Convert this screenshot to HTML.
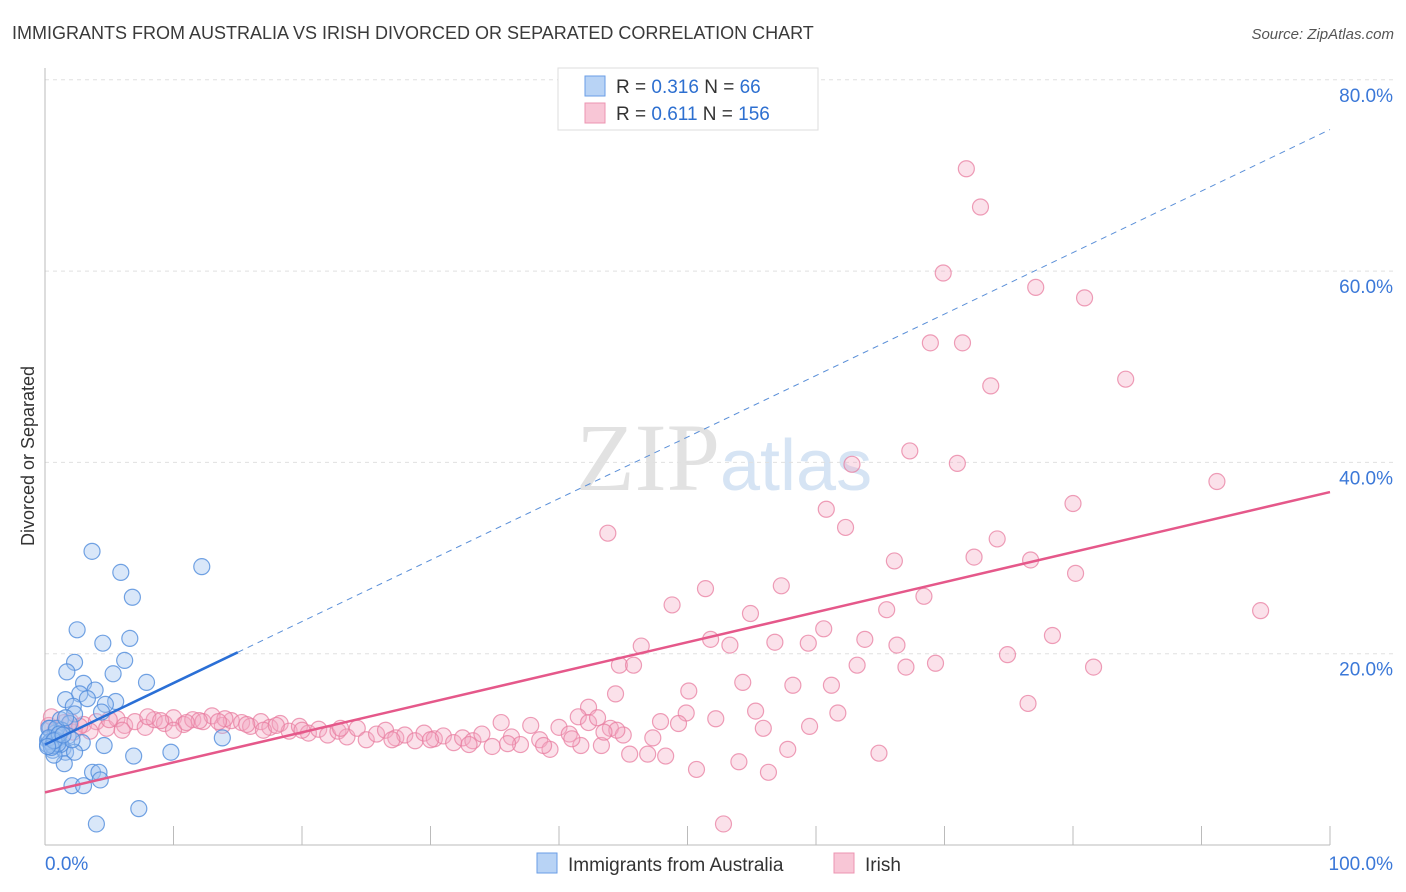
<!DOCTYPE html>
<html><head><meta charset="utf-8"><style>
body{margin:0;background:#fff;font-family:"Liberation Sans",sans-serif}
svg{display:block}
</style></head><body>
<svg id="chart" width="1406" height="892">
<text x="12" y="39" font-size="18" fill="#3a3a3a">IMMIGRANTS FROM AUSTRALIA VS IRISH DIVORCED OR SEPARATED CORRELATION CHART</text>
<text x="1394" y="39" font-size="15" fill="#555" text-anchor="end" font-style="italic">Source: ZipAtlas.com</text>
<text x="720" y="490" font-size="96" fill="#e2e2e2" text-anchor="end" font-family="Liberation Serif">ZIP</text>
<text x="720" y="490" font-size="72" fill="#d6e4f4">atlas</text>
<g id="grid"></g><g id="pts"></g><g id="lines"></g>
<text x="34" y="456" font-size="18" fill="#333" text-anchor="middle" transform="rotate(-90 34 456)">Divorced or Separated</text>
<g>
<rect x="558" y="68" width="260" height="62" fill="#fff" stroke="#ddd"/>
<rect x="585" y="76" width="20" height="20" fill="#b8d3f5" stroke="#6a9ee6"/>
<rect x="585" y="103" width="20" height="20" fill="#f8c6d6" stroke="#ec94b1"/>
<text x="616" y="93" font-size="19" fill="#333">R = <tspan fill="#2d6fd0">0.316</tspan>   N =  <tspan fill="#2d6fd0">66</tspan></text>
<text x="616" y="120" font-size="19" fill="#333">R =  <tspan fill="#2d6fd0">0.611</tspan>   N = <tspan fill="#2d6fd0">156</tspan></text>
</g>
<g>
<rect x="537" y="853" width="20" height="20" fill="#b8d3f5" stroke="#6a9ee6"/>
<text x="568" y="871" font-size="19" fill="#333">Immigrants from Australia</text>
<rect x="834" y="853" width="20" height="20" fill="#f8c6d6" stroke="#ec94b1"/>
<text x="865" y="871" font-size="19" fill="#333">Irish</text>
</g>
</svg>
<script>
const yTicks=[20,40,60,80];
const xTickLabels=["0.0%","100.0%"];
const blueX=[3.66,5.9,12.2,6.8,2.5,4.5,6.6,2.3,6.2,1.7,5.3,7.9,3.0,3.9,2.7,1.6,3.3,2.2,5.5,4.7,2.3,4.4,1.2,1.9,0.4,0.8,1.3,1.8,0.2,0.5,1.0,1.4,0.6,1.6,2.9,2.3,4.6,13.8,9.8,6.9,1.5,3.7,4.2,4.3,2.1,3.0,7.3,4.0,0.9,0.2,1.2,2.1,0.7,0.3,0.9,1.6,0.4,0.6,0.8,1.0,0.3,0.5,1.1,0.7,0.2,1.4];
const blueY=[30.7,28.5,29.1,25.9,22.5,21.1,21.6,19.1,19.3,18.1,17.9,17.0,16.9,16.2,15.8,15.2,15.3,14.5,15.0,14.7,13.7,13.9,13.1,12.7,12.2,11.7,12.0,11.4,11.0,10.6,10.9,10.1,9.9,9.7,10.7,9.7,10.4,11.2,9.7,9.3,8.5,7.6,7.6,6.8,6.2,6.2,3.8,2.2,11.3,10.5,10.5,11.0,9.4,12.2,12.2,13.3,10.8,10.4,11.0,10.6,11.2,10.2,11.6,10.9,10.3,11.5];
const pinkX=[71.7,72.8,69.9,77.1,80.9,68.9,71.4,73.6,84.1,67.3,62.8,71.0,91.2,80.0,60.8,62.3,43.8,74.1,72.3,66.1,76.7,80.2,57.3,51.4,68.4,48.8,65.5,54.9,94.6,60.6,78.4,51.8,63.8,56.8,59.4,46.4,53.3,66.3,74.9,69.3,44.7,45.8,63.2,67.0,81.6,54.3,58.2,61.2,50.1,44.4,42.3,76.5,55.3,49.9,61.7,52.2,47.9,49.3,59.5,55.9,47.3,41.7,43.3,45.5,46.9,48.3,57.8,64.9,50.7,54.0,56.3,52.8,
0.3,0.8,1.5,2.2,3,4,4.8,5.6,6.2,7,7.8,8.5,9.3,10,10.8,11.5,12.3,13,13.8,14.5,15.3,16,16.8,17.5,18.3,19,19.8,20.5,21.3,22,22.8,23.5,24.3,25,25.8,26.5,27.3,28,28.8,29.5,30.3,31,31.8,32.5,33.3,34,34.8,35.5,36.3,37,37.8,38.5,39.3,40,40.8,41.5,42.3,43,44,45,36,38.8,33,27,20,14,10,6,2,0.5,1,3.5,8,12,17,23,30,44.5,43.5,41,9,11,13.5,15.7,18,5,2.7];
const pinkY=[70.7,66.7,59.8,58.3,57.2,52.5,52.5,48.0,48.7,41.2,39.8,39.9,38.0,35.7,35.1,33.2,32.6,32.0,30.1,29.7,29.8,28.4,27.1,26.8,26.0,25.1,24.6,24.2,24.5,22.6,21.9,21.5,21.5,21.2,21.1,20.8,20.9,20.9,19.9,19.0,18.8,18.8,18.8,18.6,18.6,17.0,16.7,16.7,16.1,15.8,14.4,14.8,14.0,13.8,13.8,13.2,12.9,12.7,12.4,12.2,11.2,10.4,10.4,9.5,9.5,9.3,10.0,9.6,7.9,8.7,7.6,2.2,
12.5,12.0,12.8,11.8,12.6,12.9,12.2,13.2,12.5,12.9,12.3,13.1,12.7,13.3,12.6,13.1,12.9,13.5,12.5,13.0,12.8,12.4,12.9,12.3,12.7,11.9,12.4,11.7,12.1,11.5,11.9,11.3,12.2,11.0,11.6,12.0,11.2,11.5,10.9,11.7,11.1,11.4,10.7,11.2,10.9,11.6,10.3,12.8,11.3,10.5,12.5,11.0,10.0,12.3,11.6,13.4,12.8,13.3,12.2,11.5,10.6,10.4,10.5,11.0,12.0,13.2,12.0,12.0,12.9,13.4,11.5,11.9,13.4,13.0,12.0,12.2,11.0,12.0,11.8,11.1,13.0,12.8,12.9,12.6,12.5,13.1,12.4];
const blueTrend=[10.5,74.8];
const pinkTrend=[5.5,36.9];
const X0=45,X1=1330,Y0=845,PY=9.565;
const sx=v=>X0+(X1-X0)*v/100, sy=v=>Y0-v*PY;
const NS="http://www.w3.org/2000/svg";
function mk(t,a,p){const e=document.createElementNS(NS,t);for(const k in a)e.setAttribute(k,a[k]);p.appendChild(e);return e;}
const grid=document.getElementById('grid');
yTicks.forEach(t=>{
 const l=mk('line',{x1:X0,x2:1395,y1:sy(t),y2:sy(t),stroke:'#e0e0e0','stroke-dasharray':'4,4'},grid);
 
 
 const tx=mk('text',{x:1393,y:sy(t)+22,'font-size':19,fill:'#3b78d8','text-anchor':'end'},grid);
 tx.textContent=t.toFixed(1)+'%';
 
 
});
const ax=mk('line',{x1:X0,x2:X1,y1:Y0,y2:Y0,stroke:'#bbb'},grid);


const ay=mk('line',{x1:X0,x2:X0,y1:68,y2:Y0,stroke:'#bbb'},grid);


for(let i=1;i<=10;i++){const t=mk('line',{x1:sx(i*10),x2:sx(i*10),y1:826,y2:Y0,stroke:'#bbb'},grid);
 
 }
[[0,'start',45],[100,'end',1393]].forEach((d,i)=>{const t=mk('text',{x:d[2],y:870,'font-size':19,fill:'#3b78d8','text-anchor':d[1]},grid);t.textContent=xTickLabels[i];
 
 });
const pts=document.getElementById('pts');
pinkX.forEach((x,i)=>{const c=mk('circle',{cx:sx(x),cy:sy(pinkY[i]),r:8,fill:'rgba(244,170,196,0.35)',stroke:'rgba(232,126,160,0.75)','stroke-width':1.2},pts);
 
 });
blueX.forEach((x,i)=>{const c=mk('circle',{cx:sx(x),cy:sy(blueY[i]),r:8,fill:'rgba(160,196,240,0.4)',stroke:'rgba(80,140,220,0.8)','stroke-width':1.2},pts);
 
 });
const lines=document.getElementById('lines');
const bAt=v=>blueTrend[0]+(blueTrend[1]-blueTrend[0])*v/100;
const pAt=v=>pinkTrend[0]+(pinkTrend[1]-pinkTrend[0])*v/100;
let l=mk('line',{x1:sx(0),y1:sy(bAt(0)),x2:sx(15),y2:sy(bAt(15)),stroke:'#2a6fd6','stroke-width':2.5},lines);


l=mk('line',{x1:sx(15),y1:sy(bAt(15)),x2:sx(100),y2:sy(bAt(100)),stroke:'#5a8fd8','stroke-width':1,'stroke-dasharray':'6,5'},lines);


l=mk('line',{x1:sx(0),y1:sy(pAt(0)),x2:sx(100),y2:sy(pAt(100)),stroke:'#e5588a','stroke-width':2.5},lines);


</script>
</body></html>
